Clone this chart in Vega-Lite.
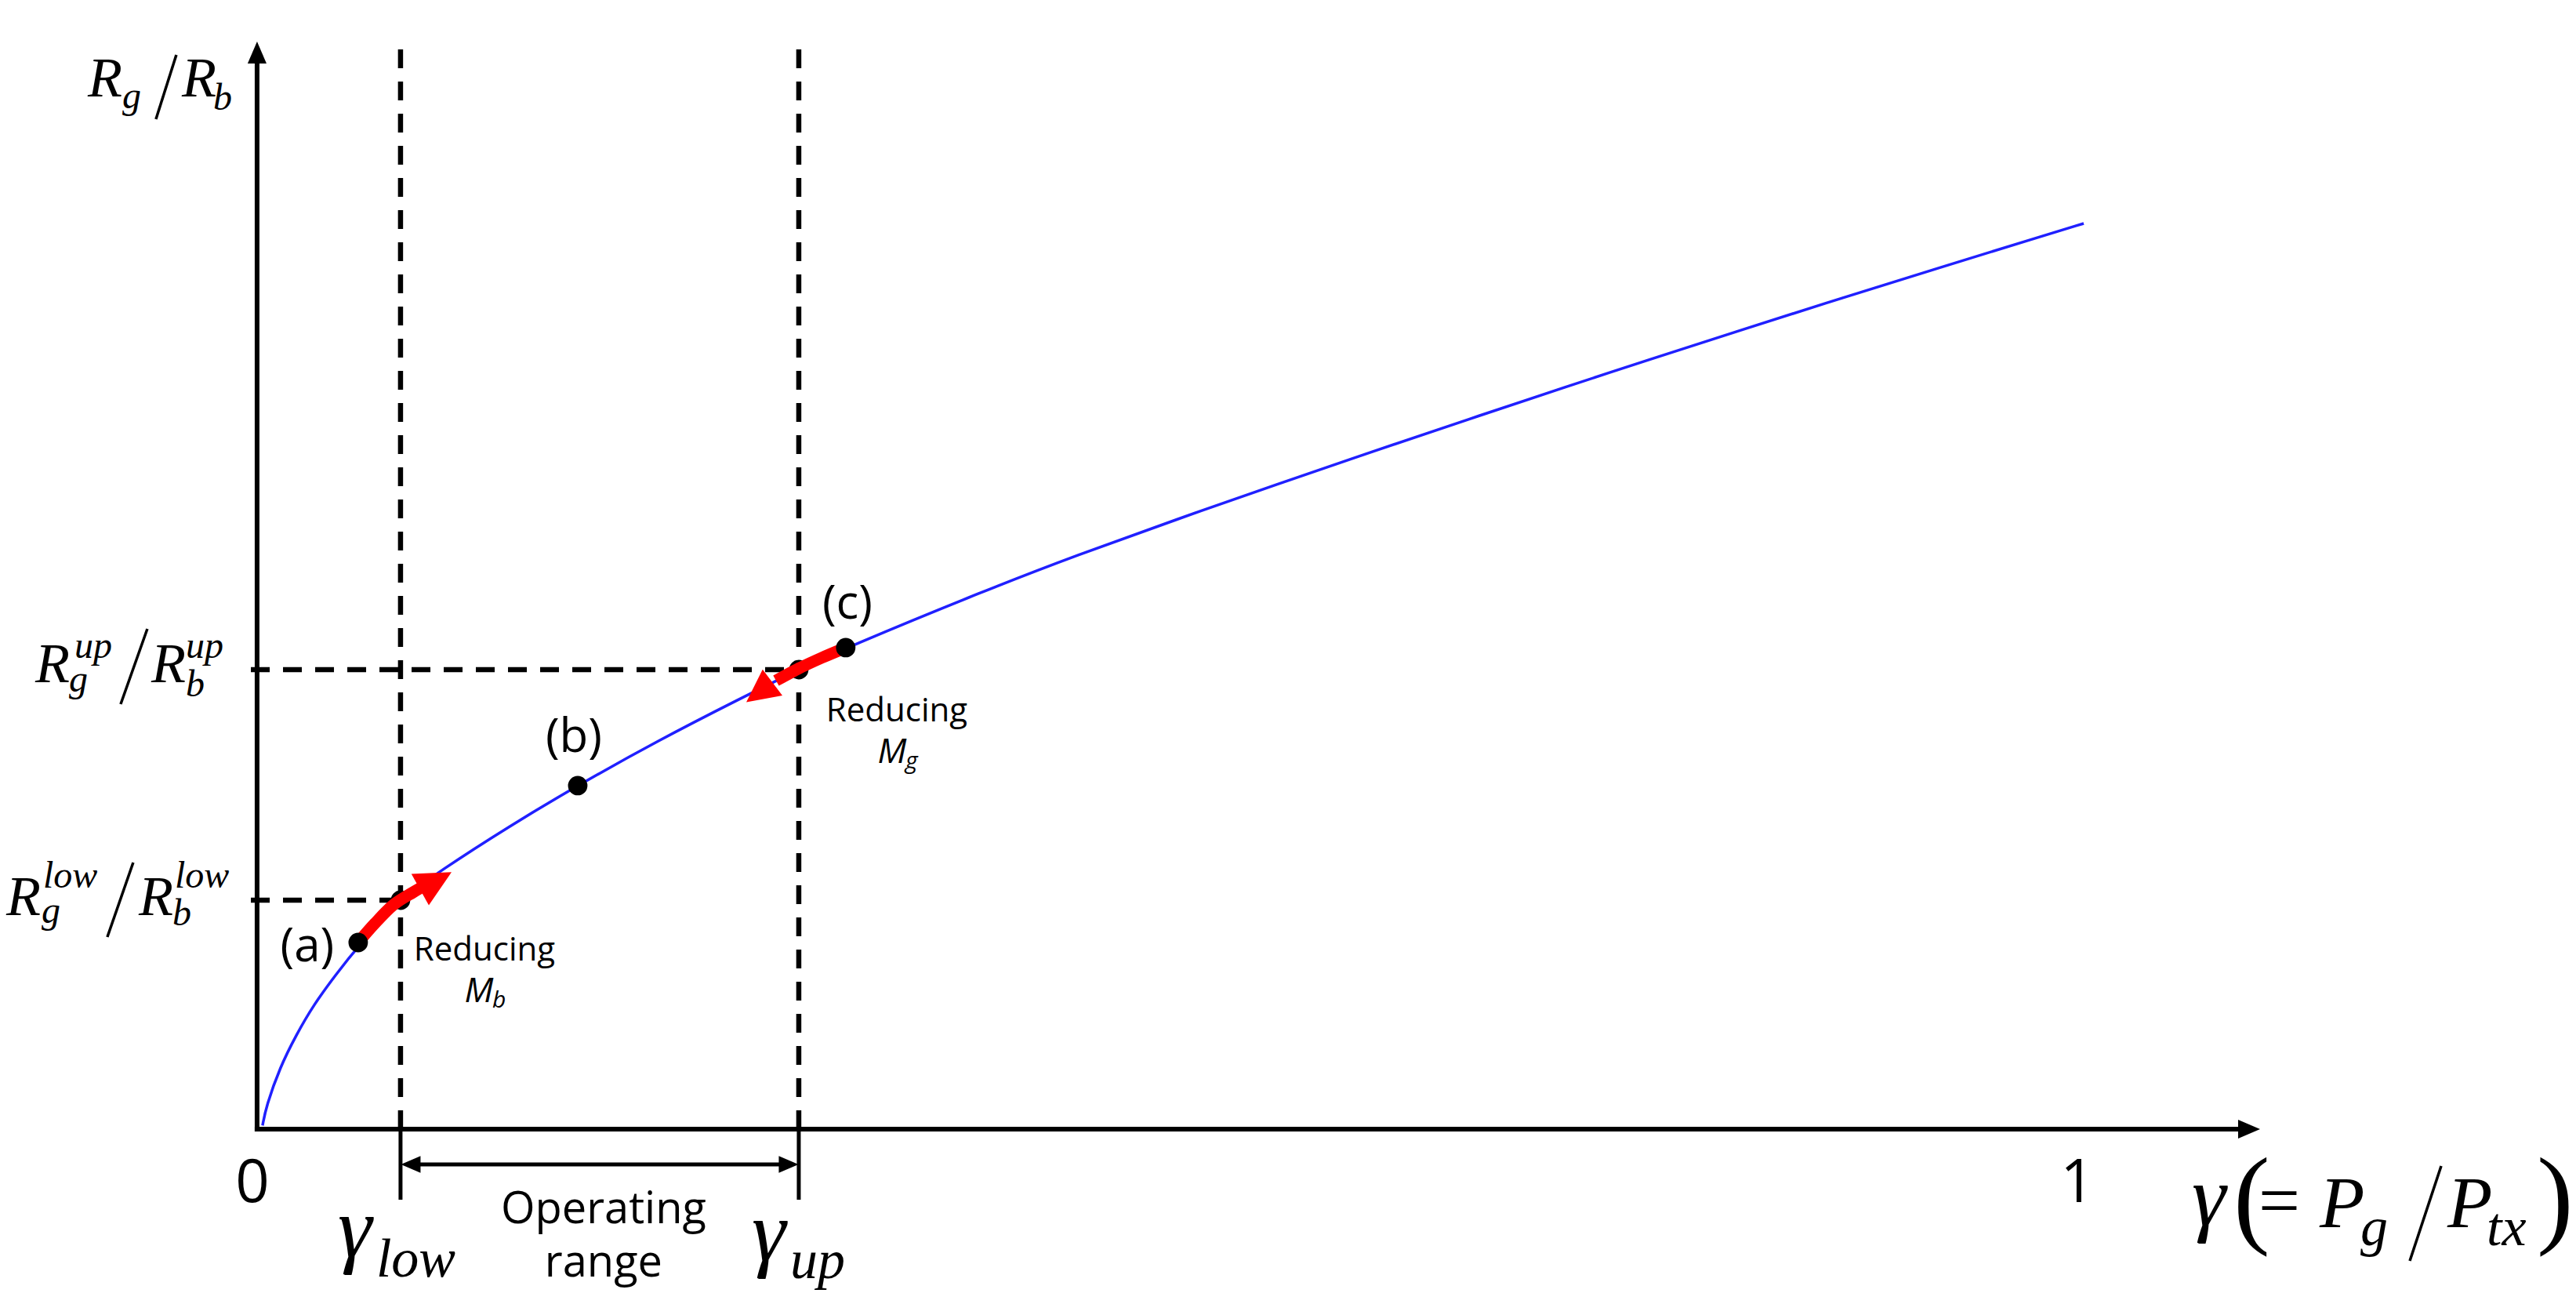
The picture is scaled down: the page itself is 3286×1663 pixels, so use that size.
{
  "$schema": "https://vega.github.io/schema/vega-lite/v6.json",
  "width": 3286,
  "height": 1663,
  "autosize": {"type": "fit", "contains": "padding"},
  "padding": 0,
  "background": "white",
  "config": {"view": {"stroke": null}},
  "encoding": {
    "x": {"field": "x", "type": "quantitative", "scale": {"domain": [-0.1411, 1.2728], "nice": false, "zero": false}, "axis": null},
    "y": {"field": "y", "type": "quantitative", "scale": {"domain": [-0.193, 1.246], "nice": false, "zero": false}, "axis": null}
  },
  "layer": [
    {
      "data": {"values": [
        {"x": 0.07874, "y": 0, "x2": 0.07874, "y2": 1.2053},
        {"x": 0.29733, "y": 0, "x2": 0.29733, "y2": 1.2053},
        {"x": -0.0034, "y": 0.50705, "x2": 0.29733, "y2": 0.50705},
        {"x": -0.0034, "y": 0.25266, "x2": 0.07874, "y2": 0.25266}
      ]},
      "mark": {"type": "rule", "color": "black", "strokeWidth": 6.5, "strokeDash": [24, 17]},
      "encoding": {"x2": {"field": "x2"}, "y2": {"field": "y2"}}
    },
    {
      "data": {"values": [
        {"x": 0, "y": 0, "x2": 0, "y2": 1.1811},
        {"x": 0, "y": 0, "x2": 1.0904, "y2": 0}
      ]},
      "mark": {"type": "rule", "color": "black", "strokeWidth": 6, "strokeCap": "square"},
      "encoding": {"x2": {"field": "x2"}, "y2": {"field": "y2"}}
    },
    {
      "data": {"values": [
        {"x": 0.07874, "y": 0, "x2": 0.07874, "y2": -0.0779},
        {"x": 0.29733, "y": 0, "x2": 0.29733, "y2": -0.0779},
        {"x": 0.0826, "y": -0.03894, "x2": 0.2935, "y2": -0.03894}
      ]},
      "mark": {"type": "rule", "color": "black", "strokeWidth": 5},
      "encoding": {"x2": {"field": "x2"}, "y2": {"field": "y2"}}
    },
    {
      "data": {"values": [{"x": 0, "y": 1.18802}]},
      "mark": {"type": "point", "shape": "M0,-1L0.86,1L-0.86,1Z", "filled": true, "color": "black", "opacity": 1, "size": 784, "angle": 0}
    },
    {
      "data": {"values": [{"x": 1.09337, "y": 0}]},
      "mark": {"type": "point", "shape": "M0,-1L0.86,1L-0.86,1Z", "filled": true, "color": "black", "opacity": 1, "size": 784, "angle": 90}
    },
    {
      "data": {"values": [{"x": 0.08434, "y": -0.03894}]},
      "mark": {"type": "point", "shape": "M0,-1L0.86,1L-0.86,1Z", "filled": true, "color": "black", "opacity": 1, "size": 625, "angle": 270}
    },
    {
      "data": {"values": [{"x": 0.29174, "y": -0.03894}]},
      "mark": {"type": "point", "shape": "M0,-1L0.86,1L-0.86,1Z", "filled": true, "color": "black", "opacity": 1, "size": 625, "angle": 90}
    },
    {
      "data": {"values": [
        {"x": -0.05551, "y": 1.11448, "x2": -0.04432, "y2": 1.18543},
        {"x": -0.07487, "y": 0.46898, "x2": -0.06024, "y2": 0.55205},
        {"x": -0.08219, "y": 0.21199, "x2": -0.06799, "y2": 0.29419},
        {"x": 1.18158, "y": -0.14537, "x2": 1.1988, "y2": -0.04067}
      ]},
      "mark": {"type": "rule", "color": "black", "strokeWidth": 3.5},
      "encoding": {"x2": {"field": "x2"}, "y2": {"field": "y2"}}
    },
    {
      "data": {"values": [
        {"x": 0.003, "y": 0.004},
        {"x": 0.005, "y": 0.025},
        {"x": 0.0125, "y": 0.068},
        {"x": 0.0215, "y": 0.104},
        {"x": 0.031, "y": 0.137},
        {"x": 0.043, "y": 0.17},
        {"x": 0.0555, "y": 0.202},
        {"x": 0.0787, "y": 0.2527},
        {"x": 0.1, "y": 0.2845},
        {"x": 0.1386, "y": 0.3345},
        {"x": 0.176, "y": 0.3793},
        {"x": 0.22, "y": 0.4286},
        {"x": 0.2646, "y": 0.4745},
        {"x": 0.2973, "y": 0.507},
        {"x": 0.3231, "y": 0.531},
        {"x": 0.4, "y": 0.5947},
        {"x": 0.45, "y": 0.6334},
        {"x": 0.5043, "y": 0.6725},
        {"x": 0.56, "y": 0.7118},
        {"x": 0.6119, "y": 0.7474},
        {"x": 0.665, "y": 0.7834},
        {"x": 0.7194, "y": 0.8197},
        {"x": 0.7625, "y": 0.8481},
        {"x": 0.816, "y": 0.8828},
        {"x": 0.87, "y": 0.9172},
        {"x": 0.924, "y": 0.951},
        {"x": 0.9776, "y": 0.9841},
        {"x": 1.0026, "y": 0.9994}
      ]},
      "mark": {"type": "line", "color": "#2020ff", "strokeWidth": 3.5, "interpolate": "basis"},
      "encoding": {}
    },
    {
      "data": {"values": [
        {"x": 0.07874, "y": 0.25266},
        {"x": 0.29733, "y": 0.50705}
      ]},
      "mark": {"type": "point", "shape": "circle", "filled": true, "color": "black", "opacity": 1, "size": 616}
    },
    {
      "data": {"values": [
        {"arrow": "a", "i": 0, "x": 0.0555, "y": 0.2059},
        {"arrow": "a", "i": 1, "x": 0.06454, "y": 0.2267},
        {"arrow": "a", "i": 2, "x": 0.07487, "y": 0.2475},
        {"arrow": "a", "i": 3, "x": 0.08563, "y": 0.2613},
        {"arrow": "a", "i": 4, "x": 0.09337, "y": 0.27},
        {"arrow": "c", "i": 0, "x": 0.3231, "y": 0.5313},
        {"arrow": "c", "i": 1, "x": 0.30981, "y": 0.52},
        {"arrow": "c", "i": 2, "x": 0.2969, "y": 0.5079},
        {"arrow": "c", "i": 3, "x": 0.28485, "y": 0.4949}
      ]},
      "mark": {"type": "line", "color": "#ff0000", "strokeWidth": 15, "interpolate": "cardinal", "strokeCap": "butt"},
      "encoding": {"detail": {"field": "arrow"}, "order": {"field": "i", "type": "quantitative"}}
    },
    {
      "data": {"values": [{"x": 0.09811, "y": 0.27386}]},
      "mark": {"type": "point", "shape": "M0,-1L1,1L-1,1Z", "filled": true, "color": "#ff0000", "opacity": 1, "size": 2100, "angle": 61}
    },
    {
      "data": {"values": [{"x": 0.27571, "y": 0.48196}]},
      "mark": {"type": "point", "shape": "M0,-1L1,1L-1,1Z", "filled": true, "color": "#ff0000", "opacity": 1, "size": 1750, "angle": 233}
    },
    {
      "data": {"values": [
        {"x": 0.0555, "y": 0.2059},
        {"x": 0.176, "y": 0.379},
        {"x": 0.3231, "y": 0.5313}
      ]},
      "mark": {"type": "point", "shape": "circle", "filled": true, "color": "black", "opacity": 1, "size": 616}
    },
    {
      "data": {"values": [
        {"x": -0.09294, "y": 1.13957, "t": "R"},
        {"x": -0.04131, "y": 1.13957, "t": "R"},
        {"x": -0.12177, "y": 0.49321, "t": "R"},
        {"x": -0.05809, "y": 0.49321, "t": "R"},
        {"x": -0.13769, "y": 0.23622, "t": "R"},
        {"x": -0.06497, "y": 0.23622, "t": "R"}
      ]},
      "mark": {"type": "text", "font": "Liberation Serif", "fontStyle": "italic", "fontSize": 72, "align": "left", "baseline": "alphabetic", "color": "black"},
      "encoding": {"text": {"field": "t"}}
    },
    {
      "data": {"values": [
        {"x": -0.07401, "y": 1.12659, "t": "g"},
        {"x": -0.0241, "y": 1.12486, "t": "b"},
        {"x": -0.10026, "y": 0.52003, "t": "up"},
        {"x": -0.10327, "y": 0.48282, "t": "g"},
        {"x": -0.03916, "y": 0.52003, "t": "up"},
        {"x": -0.03916, "y": 0.47763, "t": "b"},
        {"x": -0.11747, "y": 0.26651, "t": "low"},
        {"x": -0.11833, "y": 0.22757, "t": "g"},
        {"x": -0.04518, "y": 0.26651, "t": "low"},
        {"x": -0.04647, "y": 0.22497, "t": "b"}
      ]},
      "mark": {"type": "text", "font": "Liberation Serif", "fontStyle": "italic", "fontSize": 48, "align": "left", "baseline": "alphabetic", "color": "black"},
      "encoding": {"text": {"field": "t"}}
    },
    {
      "data": {"values": [
        {"x": 0.04432, "y": -0.14104, "t": "γ"},
        {"x": 0.27151, "y": -0.14537, "t": "γ"},
        {"x": 1.06196, "y": -0.10643, "t": "γ"}
      ]},
      "mark": {"type": "text", "font": "Liberation Serif", "fontStyle": "italic", "fontSize": 110, "align": "left", "baseline": "alphabetic", "color": "black"},
      "encoding": {"text": {"field": "t"}}
    },
    {
      "data": {"values": [
        {"x": 0.0654, "y": -0.16267, "t": "low"},
        {"x": 0.2926, "y": -0.1644, "t": "up"},
        {"x": 1.15448, "y": -0.12806, "t": "g"},
        {"x": 1.22375, "y": -0.12806, "t": "tx"}
      ]},
      "mark": {"type": "text", "font": "Liberation Serif", "fontStyle": "italic", "fontSize": 70, "align": "left", "baseline": "alphabetic", "color": "black"},
      "encoding": {"text": {"field": "t"}}
    },
    {
      "data": {"values": [
        {"x": 1.1321, "y": -0.10816, "t": "P"},
        {"x": 1.20224, "y": -0.10816, "t": "P"}
      ]},
      "mark": {"type": "text", "font": "Liberation Serif", "fontStyle": "italic", "fontSize": 94, "align": "left", "baseline": "alphabetic", "color": "black"},
      "encoding": {"text": {"field": "t"}}
    },
    {
      "data": {"values": [{"x": 1.0985, "y": -0.10556, "t": "="}]},
      "mark": {"type": "text", "font": "Liberation Serif", "fontSize": 94, "align": "left", "baseline": "alphabetic", "color": "black"},
      "encoding": {"text": {"field": "t"}}
    },
    {
      "data": {"values": [
        {"x": 1.0848, "y": -0.1151, "t": "("},
        {"x": 1.2513, "y": -0.1151, "t": ")"}
      ]},
      "mark": {"type": "text", "font": "Liberation Serif", "fontSize": 140, "align": "left", "baseline": "alphabetic", "color": "black"},
      "encoding": {"text": {"field": "t"}}
    },
    {
      "data": {"values": [
        {"x": 0.12478, "y": 0.18603, "t": "Reducing"},
        {"x": 0.35112, "y": 0.44994, "t": "Reducing"}
      ]},
      "mark": {"type": "text", "font": "Open Sans", "fontSize": 42, "align": "center", "baseline": "alphabetic", "color": "black"},
      "encoding": {"text": {"field": "t"}}
    },
    {
      "data": {"values": [
        {"x": 0.12177, "y": 0.14017, "t": "M"},
        {"x": 0.34854, "y": 0.40408, "t": "M"}
      ]},
      "mark": {"type": "text", "font": "Open Sans", "fontStyle": "italic", "fontSize": 44, "align": "center", "baseline": "alphabetic", "color": "black"},
      "encoding": {"text": {"field": "t"}}
    },
    {
      "data": {"values": [
        {"x": 0.12909, "y": 0.13412, "t": "b"},
        {"x": 0.35585, "y": 0.39802, "t": "g"}
      ]},
      "mark": {"type": "text", "font": "Open Sans", "fontStyle": "italic", "fontSize": 30, "align": "left", "baseline": "alphabetic", "color": "black"},
      "encoding": {"text": {"field": "t"}}
    },
    {
      "data": {"values": [
        {"x": 0.02754, "y": 0.18517, "t": "(a)"},
        {"x": 0.17384, "y": 0.4162, "t": "(b)"},
        {"x": 0.32401, "y": 0.56329, "t": "(c)"}
      ]},
      "mark": {"type": "text", "font": "Open Sans", "fontSize": 60, "align": "center", "baseline": "alphabetic", "color": "black"},
      "encoding": {"text": {"field": "t"}}
    },
    {
      "data": {"values": [
        {"x": 0.19019, "y": -0.10383, "t": "Operating"},
        {"x": 0.19019, "y": -0.16267, "t": "range"}
      ]},
      "mark": {"type": "text", "font": "Open Sans", "fontSize": 56, "align": "center", "baseline": "alphabetic", "color": "black"},
      "encoding": {"text": {"field": "t"}}
    },
    {
      "data": {"values": [
        {"x": -0.00258, "y": -0.08047, "t": "0"},
        {"x": 0.99914, "y": -0.08047, "t": "1"}
      ]},
      "mark": {"type": "text", "font": "Open Sans", "fontSize": 76, "align": "center", "baseline": "alphabetic", "color": "black"},
      "encoding": {"text": {"field": "t"}}
    }
  ]
}
